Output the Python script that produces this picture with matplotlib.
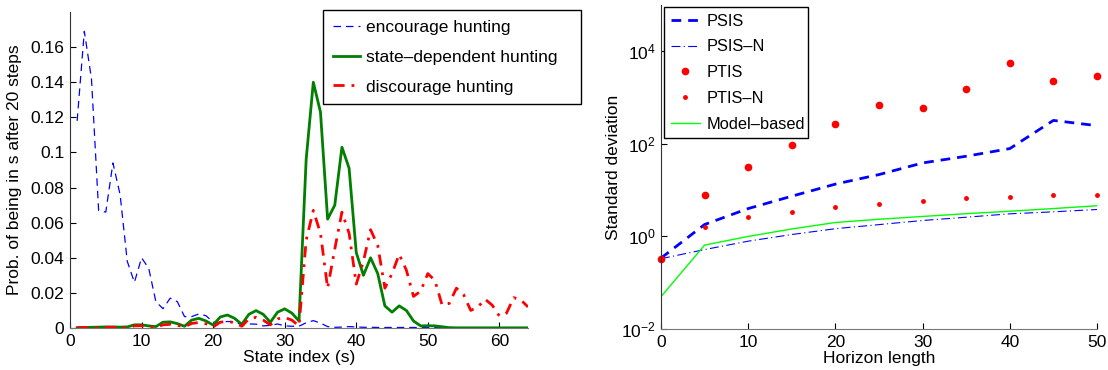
import numpy as np
import matplotlib
matplotlib.use("Agg")
import matplotlib.pyplot as plt
from matplotlib.ticker import FixedLocator, FixedFormatter, NullLocator

plt.rcParams['font.family'] = ['Liberation Sans', 'DejaVu Sans']
plt.rcParams['mathtext.fontset'] = 'custom'
plt.rcParams['mathtext.rm'] = 'Liberation Sans'
plt.rcParams['mathtext.it'] = 'Liberation Sans:italic'

# ---------------- left panel data ----------------
states = list(range(1, 65))
encourage = [0.118, 0.169, 0.142, 0.067, 0.066, 0.094, 0.076, 0.038, 0.026, 0.040,
             0.034, 0.015, 0.011, 0.017, 0.015, 0.0065, 0.0065, 0.008, 0.007, 0.0033,
             0.0033, 0.0037, 0.0036, 0.0017, 0.0023, 0.0022, 0.0012, 0.0015, 0.0023, 0.0012,
             0.001, 0.001, 0.003, 0.0042, 0.0028, 0.0008, 0.0004, 0.0005, 0.0008, 0.0006,
             0.0004, 0.0004, 0.0003, 0.0003, 0.0003, 0.0003, 0.0003, 0.0003, 0.0002, 0.0002,
             0.0002, 0.0002, 0.0001, 0.0001, 0.0001, 0.0001, 0.0001, 0.0001, 0.0001, 0.0001,
             0.0001, 0.0001, 0.0001, 0.0001]
state_dep = [0.0002, 0.0003, 0.0004, 0.0005, 0.0006, 0.0006, 0.0005, 0.0006, 0.0018, 0.0018,
             0.0012, 0.0008, 0.0033, 0.0035, 0.0025, 0.001, 0.0045, 0.0055, 0.004, 0.0017,
             0.0063, 0.0074, 0.0055, 0.0021, 0.0078, 0.0099, 0.0078, 0.0033, 0.009, 0.0109,
             0.0085, 0.004, 0.096, 0.140, 0.123, 0.062, 0.070, 0.103, 0.091, 0.043,
             0.030, 0.040, 0.031, 0.0126, 0.009, 0.0126, 0.010, 0.004, 0.0012, 0.0013,
             0.0012, 0.0007, 0.0002, 0.0001, 0.0001, 0.0001, 0.0001, 0.0001, 0.0001, 0.0001,
             0.0001, 0.0001, 0.0001, 0.0001]
discourage = [0.0002, 0.0002, 0.0003, 0.0003, 0.0004, 0.0004, 0.0004, 0.0004, 0.0012, 0.0013,
              0.0008, 0.0004, 0.0018, 0.0021, 0.0015, 0.0007, 0.0026, 0.0031, 0.0024, 0.0006,
              0.0033, 0.0038, 0.003, 0.001, 0.0052, 0.0061, 0.0045, 0.0018, 0.0052, 0.006,
              0.0045, 0.0012, 0.050, 0.067, 0.054, 0.0227, 0.045, 0.066, 0.054, 0.025,
              0.038, 0.056, 0.047, 0.0227, 0.031, 0.042, 0.033, 0.018, 0.021, 0.031,
              0.027, 0.013, 0.014, 0.0227, 0.019, 0.010, 0.012, 0.0164, 0.013, 0.0068,
              0.0085, 0.0173, 0.016, 0.012]
left_xticks = [0, 10, 20, 30, 40, 50, 60]
left_yticks = [0, 0.02, 0.04, 0.06, 0.08, 0.1, 0.12, 0.14, 0.16]
left_yticklabels = ['0', '0.02', '0.04', '0.06', '0.08', '0.1', '0.12', '0.14', '0.16']

# ---------------- right panel data ----------------
horizon = [0, 5, 10, 15, 20, 25, 30, 35, 40, 45, 50]
psis = [0.34, 1.81, 4.0, 7.4, 13.5, 21.7, 38.7, 54, 79, 321, 247]
psis_n = [0.33, 0.52, 0.79, 1.1, 1.47, 1.8, 2.21, 2.6, 3.08, 3.4, 3.82]
ptis = [0.32, 8.0, 31.8, 94.6, 263, 700, 590, 1510, 5710, 2230, 2950]
ptis_n = [0.32, 1.59, 2.6, 3.4, 4.37, 5.14, 5.9, 6.6, 7.2, 7.8, 8.0]
model_based = [0.05, 0.65, 1.0, 1.45, 2.0, 2.35, 2.7, 3.1, 3.5, 4.0, 4.6]
right_xticks = [0, 10, 20, 30, 40, 50]
right_yticks = [1e-2, 1e0, 1e2, 1e4]
right_yticklabels = [r'$\mathregular{10^{-2}}$', r'$\mathregular{10^{0}}$',
                     r'$\mathregular{10^{2}}$', r'$\mathregular{10^{4}}$']

W, H = 1108, 370
fig = plt.figure(figsize=(W / 100, H / 100), dpi=100)

FS = 12.5
FSR = 11.8
spine_col = '#333333'

def style_axes(ax):
    ax.spines['top'].set_visible(False)
    ax.spines['right'].set_visible(False)
    ax.spines['left'].set_color(spine_col)
    ax.spines['bottom'].set_color('#777777')
    ax.tick_params(direction='in', length=4, width=0.8, colors='black',
                   labelsize=FS, pad=4)

# ---- left ----
axL = fig.add_axes([70 / W, 1 - 328 / H, (528 - 70) / W, (328 - 12) / H])
axL.plot(states, encourage, color='#0000ff', lw=0.9, ls=(0, (6, 4)),
         label='encourage hunting')
axL.plot(states, state_dep, color='#007f00', lw=2.0, ls='-',
         label='state–dependent hunting')
axL.plot(states, discourage, color='#ff0000', lw=2.0, ls=(0, (4, 2.5, 1, 2.5)),
         label='discourage hunting')
axL.set_xlim(0, 64)
axL.set_ylim(0, 0.18)
axL.xaxis.set_major_locator(FixedLocator(left_xticks))
axL.yaxis.set_major_locator(FixedLocator(left_yticks))
axL.yaxis.set_major_formatter(FixedFormatter(left_yticklabels))
style_axes(axL)
axL.set_xlabel('State index (s)', fontsize=FS, labelpad=1)
axL.set_ylabel('Prob. of being in s after 20 steps', fontsize=FS, labelpad=6)
legL = axL.legend(loc='upper left',
                  bbox_to_anchor=(323 / W, 1 - 106 / H, (581 - 323) / W, (106 - 10) / H),
                  bbox_transform=fig.transFigure, borderaxespad=0, mode='expand',
                  fontsize=FS, frameon=True, fancybox=False, framealpha=1,
                  edgecolor='black', handlelength=1.6, handletextpad=0.35,
                  labelspacing=0.85, borderpad=0.55)
legL.get_frame().set_linewidth(1.0)

# ---- right ----
axR = fig.add_axes([661 / W, 1 - 329 / H, (1097 - 661) / W, (329 - 5) / H])
axR.plot(horizon, psis, color='#0000ff', lw=2.0, ls=(0, (3.5, 2.5)), label='PSIS')
axR.plot(horizon, psis_n, color='#0000ff', lw=0.8, ls=(0, (8, 3, 1, 3)), label='PSIS–N')
axR.plot(horizon, ptis, color='#ff0000', ls='none', marker='o', ms=4.5,
         mec='#ff0000', mfc='#ff0000', label='PTIS', clip_on=False)
axR.plot(horizon, ptis_n, color='#ff0000', ls='none', marker='o', ms=2.5,
         mec='#ff0000', mfc='#ff0000', label='PTIS–N', clip_on=False)
axR.plot(horizon, model_based, color='#00ff00', lw=1.0, ls='-', label='Model–based')
axR.set_yscale('log')
axR.set_xlim(0, 50)
axR.set_ylim(1e-2, 1e5)
axR.xaxis.set_major_locator(FixedLocator(right_xticks))
axR.yaxis.set_major_locator(FixedLocator(right_yticks))
axR.yaxis.set_major_formatter(FixedFormatter(right_yticklabels))
axR.yaxis.set_minor_locator(NullLocator())
style_axes(axR)
axR.set_xlabel('Horizon length', fontsize=FS, labelpad=1)
axR.set_ylabel('Standard deviation', fontsize=FS, labelpad=0)
legR = axR.legend(loc='upper left',
                  bbox_to_anchor=(664 / W, 1 - 138 / H, (808 - 664) / W, (138 - 7) / H),
                  bbox_transform=fig.transFigure, borderaxespad=0, mode='expand',
                  fontsize=FSR, frameon=True, fancybox=False, framealpha=1,
                  edgecolor='black', handlelength=1.8, handletextpad=0.4,
                  labelspacing=0.66, borderpad=0.4, numpoints=1)
legR.get_frame().set_linewidth(1.0)

fig.savefig('out.png', dpi=100)
